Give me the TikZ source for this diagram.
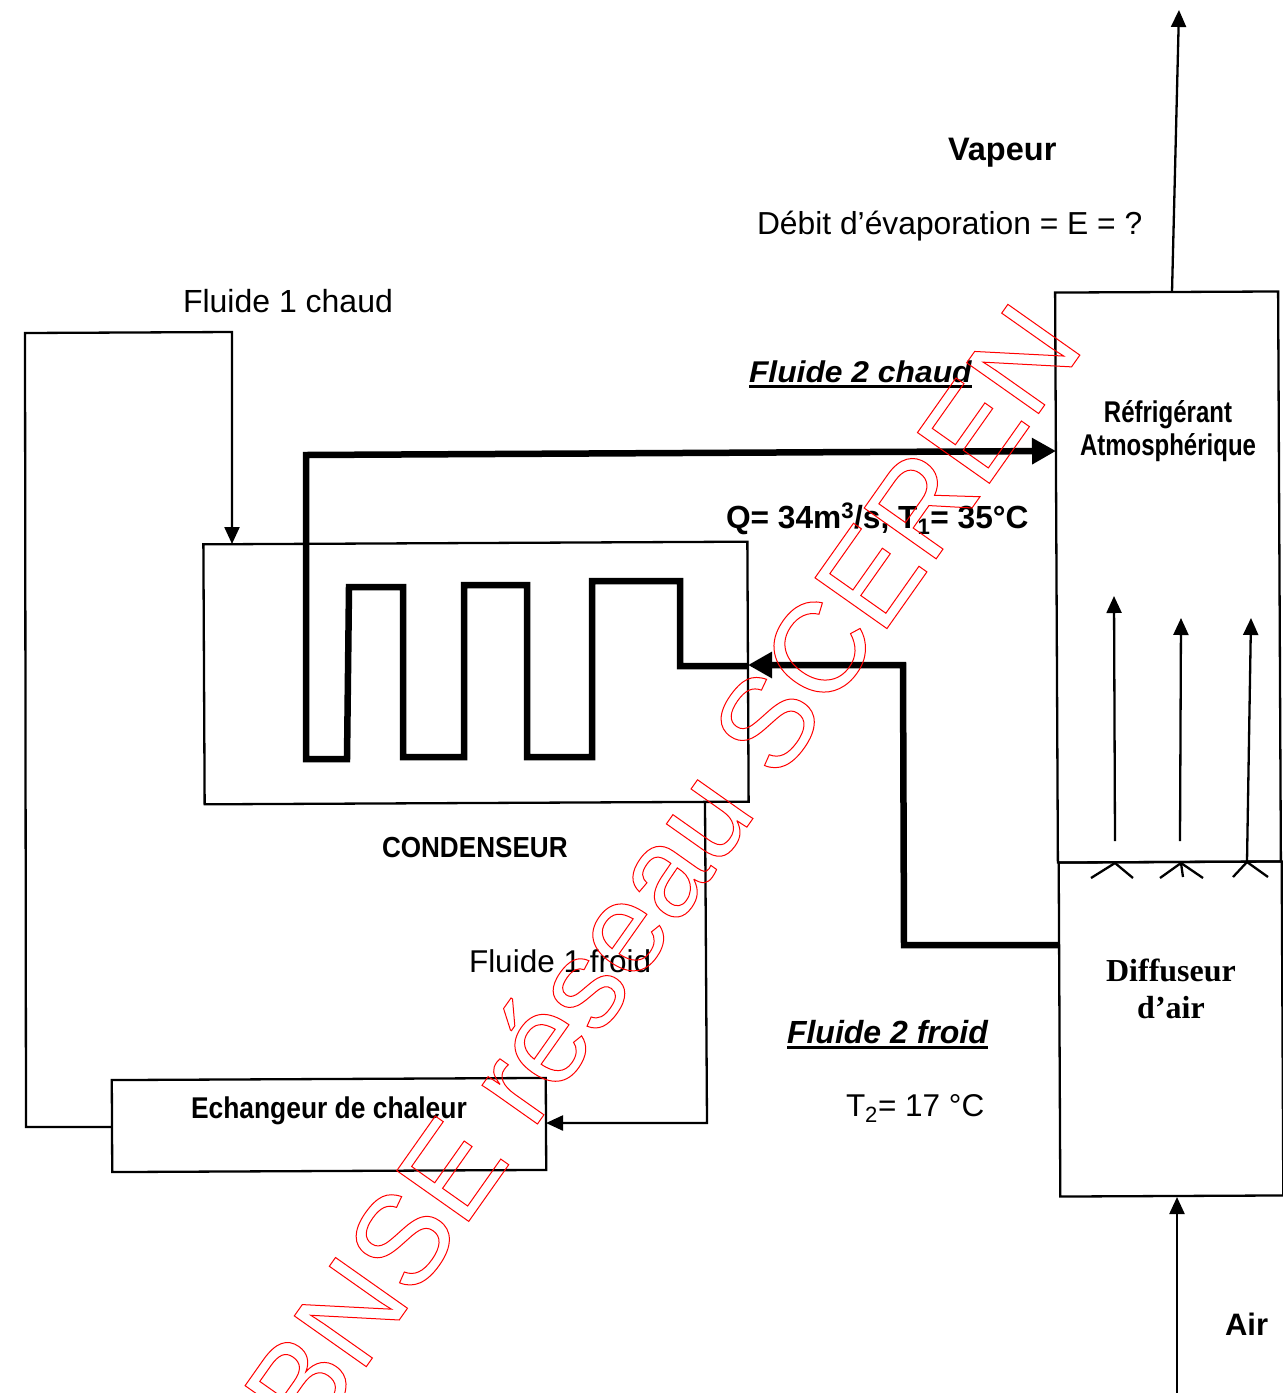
\documentclass[tikz,border=0pt]{standalone}
\usepackage{fontspec}
\usetikzlibrary{arrows.meta}
\setmainfont{Liberation Sans}
\newfontfamily\serifbf{Liberation Serif}[BoldFont={* Bold}]
\newcommand{\fsz}[1]{\fontsize{#1pt}{#1pt}\selectfont}
\newcommand{\sx}[2]{\scalebox{#1}[1]{#2}}
\tikzset{
  x=1pt,y=-1pt,
  box/.style={draw=black,line width=2.3pt,inner sep=0pt,outer sep=0pt,rotate=0.28},
  wire/.style={line width=2.3pt,-{Triangle[length=17pt,width=15pt]}},
  pipe/.style={line width=6.5pt,miter limit=10,-{Triangle[length=24pt,width=25pt]}},
  plain/.style={line width=2.3pt},
  lbl/.style={anchor=base west,inner sep=0pt,outer sep=0pt,text=black},
  lblc/.style={anchor=base,inner sep=0pt,outer sep=0pt,text=black},
}
\begin{document}
\begin{tikzpicture}
\useasboundingbox (0,0) rectangle (1283,1393);
\fill[white] (0,0) rectangle (1283,1393);
% boxes
\node[box,minimum width=544pt,minimum height=260pt] (cond) at (476,673) {};
\node[box,minimum width=434pt,minimum height=92pt] (exch) at (329,1125) {};
\node[box,minimum width=223pt,minimum height=570pt] (tower) at (1168,577) {};
\node[box,minimum width=223pt,minimum height=334pt] (diff) at (1171,1029) {};
% named points
\coordinate (vapout) at (1179,10);
\coordinate (vapin) at (1172,292);
\coordinate (airin) at (1177,1393);
\coordinate (airout) at (1177,1197);
\coordinate (hA) at (112,1127);
\coordinate (hB) at (26,1127);
\coordinate (hC) at (25,333);
\coordinate (hD) at (232,332);
\coordinate (hE) at (232,544);
\coordinate (cA) at (705,803);
\coordinate (cB) at (707,1123);
\coordinate (cC) at (546,1123);
% wires
\draw[wire] (hA) -- (hB) -- (hC) -- (hD) -- (hE);
\draw[wire] (cA) -- (cB) -- (cC);
\draw[wire] (vapin) -- (vapout);
\draw[wire] (airin) -- (airout);
% thick pipes
\coordinate (pA) at (1058,945);
\coordinate (pB) at (904,945);
\coordinate (pC) at (903,665);
\coordinate (pD) at (748,665);
\coordinate (pEnd) at (1056,451);
\draw[pipe] (pA) -- (pB) -- (pC) -- (pD);
\draw[pipe] (748,666) -- (680,666) -- (680,581) -- (592,581) -- (592,757) -- (527,757) -- (527,585) -- (464,585) -- (464,757) -- (403,757) -- (403,587) -- (349,587) -- (347,759) -- (306,759) -- (306,455) -- (pEnd);
% air arrows
\coordinate (n1) at (1115,863);
\coordinate (n2) at (1181,863);
\coordinate (n3) at (1247,862);
\draw[wire] (1115,841) -- (1114,596);
\draw[wire] (1180,841) -- (1181,618);
\draw[wire] (n3) -- (1251,618);
\draw[plain] (1091,878) -- (n1) -- (1133,878);
\draw[plain] (1160,878) -- (n2) -- (1203,878);
\draw[plain] (n2) -- (1183,877);
\draw[plain] (1233,877) -- (n3) -- (1268,877);
% texts
\node[lbl] (vap) at (948,160) {\fsz{32.5}\bfseries Vapeur};
\node[lbl] (deb) at (757,234) {\fsz{31.8}Débit d’évaporation = E = ?};
\node[lbl] (f1c) at (183,312) {\fsz{32}Fluide 1 chaud};
\node[lbl] (f2c) at (749,382) {\fsz{30}\rlap{\rule[-5.5pt]{223pt}{3pt}}\bfseries\itshape\sx{1.06}{Fluide 2 chaud}};
\node[lbl] (q) at (726,528) {\fsz{32}\bfseries\sx{.99}{Q= 34m\textsuperscript{3}/s, T\textsubscript{1}= 35°C}};
\node[lbl] (cn) at (382,857) {\fsz{29}\bfseries\sx{.9}{CONDENSEUR}};
\node[lbl] (ech) at (191,1118) {\fsz{30}\bfseries\sx{.88}{Echangeur de chaleur}};
\node[lbl] (f1f) at (469,972) {\fsz{31.5}Fluide 1 froid};
\node[lbl] (f2f) at (787,1043) {\fsz{32}\rlap{\rule[-5.5pt]{201pt}{3pt}}\bfseries\itshape Fluide 2 froid};
\node[lbl] (t2) at (846,1116) {\fsz{31.5}T\textsubscript{2}= 17 °C};
\node[lblc] (r1) at (1168,422) {\fsz{30}\bfseries\sx{.8}{Réfrigérant}};
\node[lblc] (r2) at (1168,455) {\fsz{30}\bfseries\sx{.8}{Atmosphérique}};
\node[lblc] (d1) at (1171,981) {\fsz{32}\serifbf\bfseries Diffuseur};
\node[lblc] (d2) at (1171,1018) {\fsz{32}\serifbf\bfseries d’air};
\node[lbl] (air) at (1225,1335) {\fsz{31}\bfseries Air};
% watermark
\begin{scope}
\clip (0,0) rectangle (1283,1393);
\node[lbl,rotate=54.8] (wm) at (311,1445) {\special{pdf:code 1 Tr 1 w 1 0 0 RG}\fsz{128}BNSE réseau SCEREN\special{pdf:code 0 Tr}};
\end{scope}
\end{tikzpicture}
\end{document}
